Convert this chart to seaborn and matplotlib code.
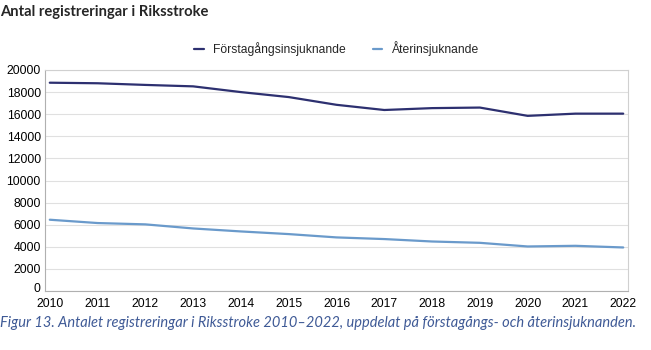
import pandas as pd
import matplotlib.pyplot as plt
import matplotlib.transforms as mtransforms
import seaborn as sns

years = list(range(2010, 2023))
forsta = [18850, 18800, 18650, 18520, 18000, 17550, 16850, 16380, 16550, 16600, 15850, 16050, 16050]
ater = [6450, 6150, 6030, 5660, 5390, 5150, 4850, 4700, 4480, 4360, 4030, 4090, 3940]
series_names = ["Förstagångsinsjuknande", "Återinsjuknande"]
colors = ["#2d3070", "#6a9acb"]

df = pd.DataFrame({
    "year": years * 2,
    "value": forsta + ater,
    "series": [series_names[0]] * len(years) + [series_names[1]] * len(years),
})

sns.set_theme(style="white")
plt.rcParams["font.family"] = ["Liberation Sans", "DejaVu Sans"]

fig = plt.figure(figsize=(6.51, 3.5), dpi=100)
ax = fig.add_axes([45 / 651, 1 - 291 / 350, 583 / 651, 221 / 350])

sns.lineplot(data=df, x="year", y="value", hue="series", palette=colors,
             linewidth=1.6, ax=ax, legend=True)

ax.set_xlim(2009.9, 2022.1)
ax.set_ylim(0, 20000)
ax.set_xticks(years)
ax.set_yticks(range(0, 20001, 2000))
ax.grid(axis="y", color="#e0e0e0", linewidth=0.8)
ax.set_axisbelow(True)
ax.set_xlabel("")
ax.set_ylabel("")
ax.tick_params(axis="both", labelsize=8.7, colors="#000000", length=0, pad=3)
ax.tick_params(axis="x", pad=5)
for side in ["left", "bottom"]:
    ax.spines[side].set_color("#b0b0b0")
    ax.spines[side].set_linewidth(0.8)
for side in ["right", "top"]:
    ax.spines[side].set_color("#d0d0d0")
    ax.spines[side].set_linewidth(0.8)
# nudge the "0" label up a little so it clears "2010"
lab0 = ax.get_yticklabels()[0]
lab0.set_transform(lab0.get_transform() + mtransforms.ScaledTranslation(0, 2.5 / 72, fig.dpi_scale_trans))

handles, labels = ax.get_legend_handles_labels()
ax.legend(handles, labels, loc="lower center", bbox_to_anchor=(0.5, 1.04), ncol=2,
          frameon=False, fontsize=8.7, handlelength=0.8, columnspacing=2.2,
          handletextpad=0.8, borderaxespad=0)

fig.text(0.0, 1 - 12 / 350, "Antal registreringar i Riksstroke", fontsize=10.6,
         fontweight="bold", family=["Lato", "DejaVu Sans"], va="center", ha="left")
fig.text(0.0, 1 - 323 / 350,
         "Figur 13. Antalet registreringar i Riksstroke 2010–2022, uppdelat på förstagångs- och återinsjuknanden.",
         fontsize=10.5, style="italic", color="#3f5a96", family=["Lato", "DejaVu Sans"],
         va="center", ha="left")

plt.savefig("out.png", dpi=100)
plt.close()
